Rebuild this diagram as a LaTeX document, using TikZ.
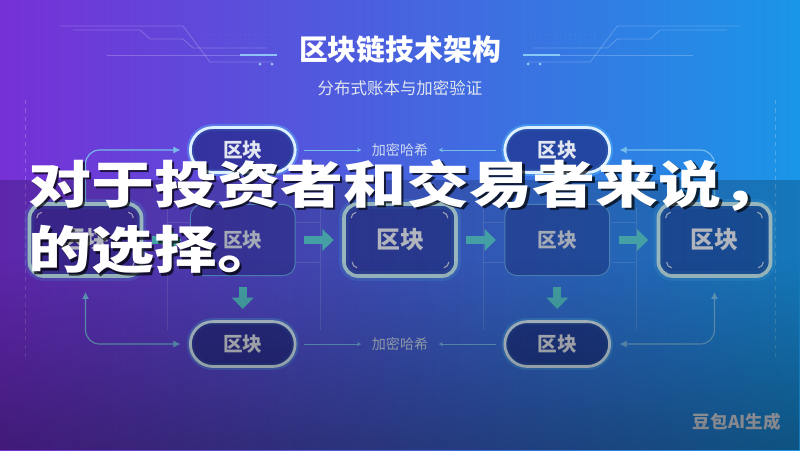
\documentclass[tikz,border=0pt]{standalone}
\usepackage{fontspec}
\setmainfont{Noto Sans CJK SC}
\usetikzlibrary{positioning,arrows.meta,fadings}

\definecolor{bgleft}{RGB}{118,48,214}
\definecolor{bgmid}{RGB}{60,74,208}
\definecolor{bgright}{RGB}{26,150,232}
\definecolor{blkfill}{RGB}{25,35,120}
\definecolor{pilledge}{RGB}{220,240,255}
\definecolor{blkedge}{RGB}{190,228,238}
\definecolor{thinedge}{RGB}{95,160,225}
\definecolor{glow}{RGB}{90,200,255}
\definecolor{pilltext}{RGB}{225,230,240}
\definecolor{blktext}{RGB}{220,225,235}
\definecolor{thintext}{RGB}{205,212,228}
\definecolor{linkc}{RGB}{120,190,235}
\definecolor{fatc}{RGB}{85,200,205}
\definecolor{hashtext}{RGB}{205,218,242}

\tikzset{
  pill/.style={draw=pilledge, line width=2pt, fill=blkfill, fill opacity=0.6, text opacity=1,
               rounded corners=0.56cm, minimum width=2.62cm, minimum height=1.12cm,
               text=pilltext, font=\fontsize{14}{16}\selectfont\bfseries,
               preaction={draw=glow, line width=5pt, draw opacity=0.35}},
  thickblk/.style={draw=blkedge, line width=2.6pt, fill=blkfill, fill opacity=0.45, text opacity=1,
               rounded corners=0.35cm, minimum width=2.8cm, minimum height=1.8cm,
               text=blktext, font=\fontsize{17}{20}\selectfont\bfseries,
               preaction={draw=glow, line width=7pt, draw opacity=0.22}},
  thinblk/.style={draw=thinedge, line width=0.7pt, fill=blkfill, fill opacity=0.35, text opacity=1,
               rounded corners=0.3cm, minimum width=2.62cm, minimum height=1.78cm,
               text=thintext, font=\fontsize{14}{16}\selectfont\bfseries},
  hashlbl/.style={text=hashtext, font=\fontsize{10}{12}\selectfont},
  link/.style={draw=linkc, line width=0.8pt, rounded corners=10pt},
  hashline/.style={draw=linkc, line width=0.6pt, -{Stealth[length=3pt,width=3pt]}},
  fatarrow/.style={draw=fatc, line width=6pt, -{Triangle[length=8pt,width=15pt]}},
  accent/.style={draw=white, draw opacity=0.7, line width=0.8pt},
  deco/.style={draw=white, draw opacity=0.22, line width=0.6pt},
  ovl/.style={anchor=west, inner sep=0pt, font=\fontsize{36}{42}\selectfont\bfseries,
              xscale=1.245, transform shape}
}

\begin{document}
\begin{tikzpicture}[x=0.025cm, y=0.025cm, node distance=3.93cm]
  \path[use as bounding box] (0,0) rectangle (800,-450);
  \shade[left color=bgleft, middle color=bgmid, right color=bgright] (0,0) rectangle (800,-450);

  % circuit lines beside the title
  \foreach \sx/\dx in {1/0,-1/20} {
    \begin{scope}[xshift=\dx cm, xscale=\sx]
      \draw[deco] (60,-26) -- (183,-26) -- (210,-62) -- (272,-62);
      \draw[deco] (73,-30) -- (140,-30) -- (150,-39) -- (183,-39) -- (193,-48) -- (267,-48);
      \draw[deco] (107,-55) -- (240,-55);
      \draw[draw=glow!60!white, line width=1.5pt, opacity=0.8] (240,-55) -- (277,-55);
      \fill[glow!50!white, opacity=0.8] (260,-64) circle (1.5) (272,-64) circle (1.5);
      \foreach \i in {0,...,13}
        \foreach \j in {0,1,2}
          \fill[white, opacity=0.15] (205+5*\i,-35-4*\j) circle (0.5);
    \end{scope}
  }

  % faint frame lines
  \draw[deco, dashed] (25,-100) -- (25,-360);
  \draw[deco, dashed] (775,-100) -- (775,-360);
  \foreach \cx in {243,559} {
    \draw[deco, draw opacity=0.15] (\cx-76,-208) -- (\cx-76,-330);
    \draw[deco, draw opacity=0.15] (\cx+77,-208) -- (\cx+77,-330);
    \draw[deco, draw opacity=0.15] (\cx-76,-222) -- (\cx-53,-222) (\cx+53,-222) -- (\cx+77,-222);
    \draw[deco, draw opacity=0.15] (\cx-76,-262) -- (\cx-53,-262) (\cx+53,-262) -- (\cx+77,-262);
  }

  \node (title) at (400,-50) [text=white, font=\fontsize{20.5}{24}\selectfont\bfseries] {区块链技术架构};
  \node (sub) [below of=title, node distance=0.95cm, text=pilltext, font=\fontsize{11.7}{14}\selectfont]
        {分布式账本与加密验证};

  % middle row
  \node (b3) at (400,-240) [thickblk] {区块};
  \node (b2) [thinblk, left of=b3] {区块};
  \node (b1) [thickblk, left of=b2] {区块};
  \node (b4) [thinblk, right of=b3] {区块};
  \node (b5) [thickblk, right of=b4] {区块};

  % top and bottom rows
  \node (p1) [pill, node distance=2.25cm, above of=b2] {区块};
  \node (p2) [pill, node distance=2.25cm, above of=b4] {区块};
  \node (p3) [pill, node distance=2.6cm, below of=b2] {区块};
  \node (p4) [pill, node distance=2.6cm, below of=b4] {区块};
  \node (h1) [hashlbl, right of=p1] {加密哈希};
  \node (h2) [hashlbl, right of=p3] {加密哈希};

  \foreach \b in {b1,b3,b5} {
    \draw[accent] ([shift={(9,-16)}]\b.north west) arc[start angle=180, end angle=100, radius=6];
    \draw[accent] ([shift={(-15,-10)}]\b.north east) arc[start angle=80, end angle=0, radius=6];
    \draw[accent] ([shift={(-9,16)}]\b.south east) arc[start angle=0, end angle=-80, radius=6];
    \draw[accent] ([shift={(15,10)}]\b.south west) arc[start angle=260, end angle=180, radius=6];
  }

  \draw[fatarrow, shorten <=6pt, shorten >=6pt] (b1) -- (b2);
  \draw[fatarrow, shorten <=6pt, shorten >=6pt] (b2) -- (b3);
  \draw[fatarrow, shorten <=6pt, shorten >=6pt] (b3) -- (b4);
  \draw[fatarrow, shorten <=6pt, shorten >=6pt] (b4) -- (b5);
  \draw[fatarrow, shorten <=8pt, shorten >=8pt] (b2) -- (p3);
  \draw[fatarrow, shorten <=8pt, shorten >=8pt] (b4) -- (p4);

  \draw[link, -{Latex[length=5pt,width=5pt]}, shorten >=6pt] (b1.north) |- (p1.west);
  \draw[link, -{Latex[length=5pt,width=5pt]}, shorten >=6pt] (b5.north) |- (p2.east);
  \draw[link, {Latex[length=5pt,width=5pt]}-{Latex[length=5pt,width=5pt]},
        shorten <=10pt, shorten >=6pt] (b1.south) |- (p3.west);
  \draw[link, {Latex[length=5pt,width=5pt]}-{Latex[length=5pt,width=5pt]},
        shorten <=10pt, shorten >=6pt] (b5.south) |- (p4.east);

  \draw[hashline, shorten <=5pt, shorten >=4pt] (p1.east) -- (h1.west);
  \draw[hashline, shorten <=5pt, shorten >=4pt] (p2.west) -- (h1.east);
  \draw[hashline, shorten <=5pt, shorten >=4pt] (p3.east) -- (h2.west);
  \draw[hashline, shorten <=5pt, shorten >=4pt] (p4.west) -- (h2.east);

  \node (mark) at (737,-422) [text=pilltext, font=\fontsize{12.5}{14}\selectfont\bfseries] {豆包AI生成};

  % darker band under the caption
  \fill[black, opacity=0.2] (0,-180) rectangle (800,-450);
  \fill[black, path fading=north, fill opacity=0.3] (0,-260) rectangle (800,-450);

  % caption laid over the picture
  \node (ovltops) at (30.5,-187.5) [ovl, text=black, text opacity=0.7] {对于投资者和交易者来说，};
  \node (ovlbots) at (30.5,-252.5) [ovl, text=black, text opacity=0.7] {的选择。};
  \node (ovltop) at (28,-185) [ovl, text=white] {对于投资者和交易者来说，};
  \node (ovlbot) at (28,-250) [ovl, text=white] {的选择。};
\end{tikzpicture}
\end{document}
